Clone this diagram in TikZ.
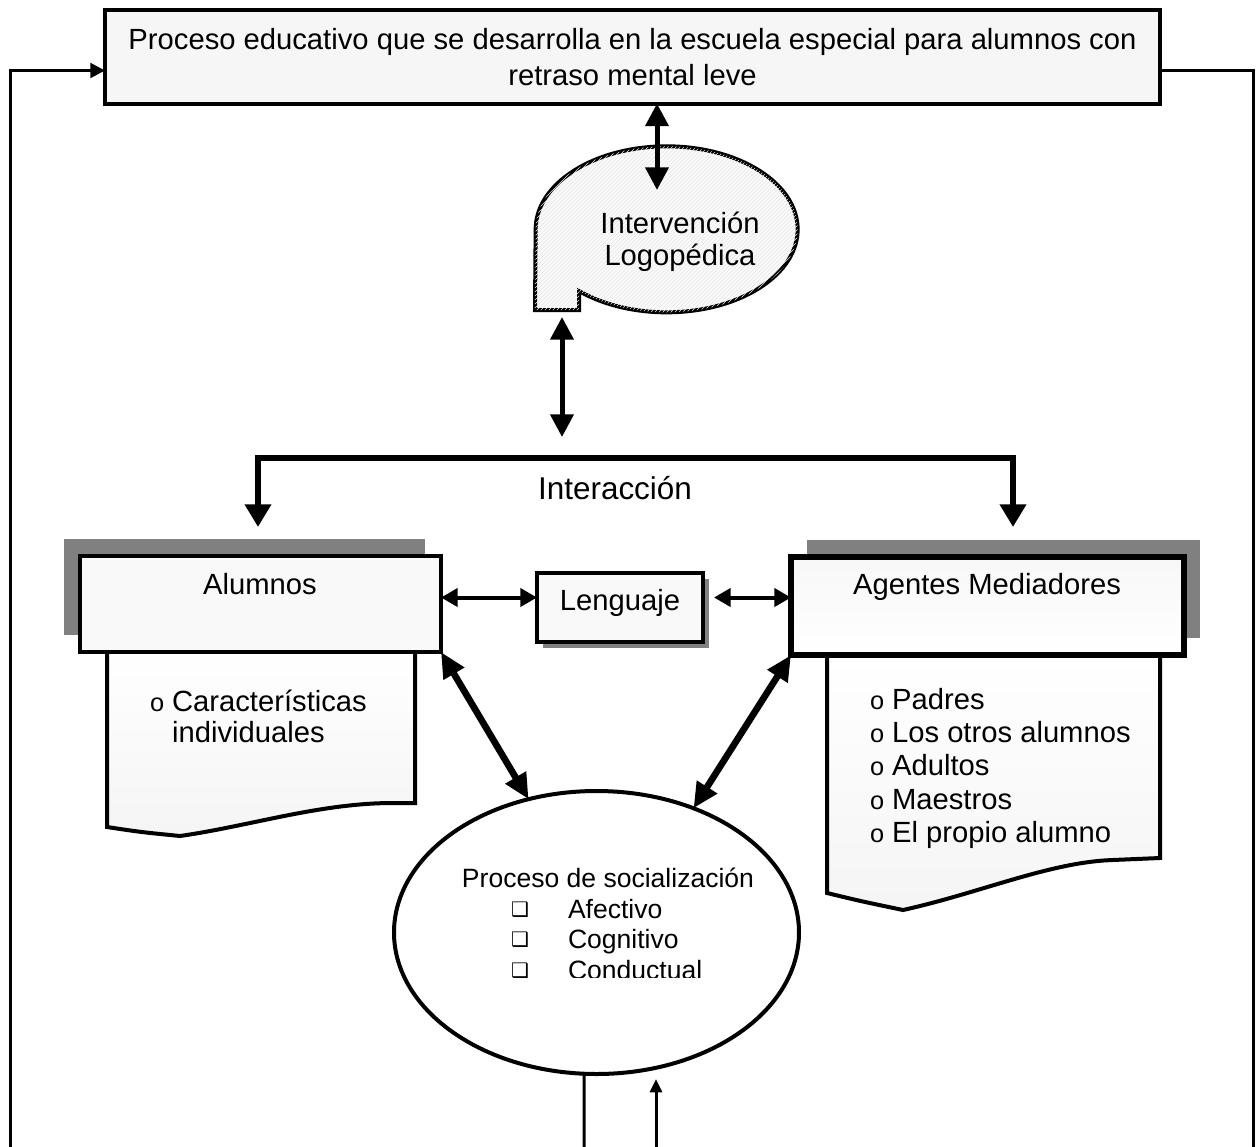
\documentclass[tikz,border=0pt]{standalone}
\usepackage{fontspec}
\setmainfont{Liberation Sans}
\newfontfamily\symfont{DejaVu Sans}
\usetikzlibrary{arrows.meta,shapes.geometric,shadows,patterns}
\newcommand\bul{{\fontsize{19}{19}\selectfont o}}
\newcommand\chk{{\symfont\fontsize{15}{15}\selectfont ❑}}
\begin{document}
\begin{tikzpicture}[x=0.75pt,y=-0.75pt,
  every node/.style={inner sep=0pt, outer sep=0pt},
  txt/.style={font=\fontsize{21.9}{27}\selectfont},
  listL/.style={font=\fontsize{21.9}{23.3}\selectfont},
  listR/.style={font=\fontsize{21.9}{25}\selectfont},
  smalltxt/.style={font=\fontsize{19.9}{22.5}\selectfont},
  box/.style={draw, line width=3pt, fill=gray!5},
  doc/.style={draw, line width=3pt, top color=white, bottom color=gray!8},
  feed/.style={line width=2.25pt, -{Triangle[length=11pt,width=11pt]}},
  thin/.style={line width=2.25pt},
  dblbig/.style={line width=3.75pt, {Triangle[length=17pt,width=17pt]}-{Triangle[length=17pt,width=17pt]}},
  bracket/.style={line width=4.5pt, line join=miter, {Triangle[length=17pt,width=19pt]}-{Triangle[length=17pt,width=19pt]}},
  dblmid/.style={line width=3pt, {Triangle[length=12.5pt,width=13.5pt]}-{Triangle[length=12.5pt,width=13.5pt]}},
  dbldiag/.style={line width=5pt, {Triangle[length=19pt,width=17pt]}-{Triangle[length=19pt,width=17pt]}},
  upin/.style={line width=2.25pt, -{Triangle[length=10pt,width=9pt]}}
]
\useasboundingbox (0,0) rectangle (1258,1147);

% loose ends leaving the page
\coordinate (fbL) at (10,1147);
\coordinate (fbR) at (1253,1147);
\coordinate (outA) at (584,1147);
\coordinate (inB) at (656,1147);

% main process box
\node[box, fill=gray!7, minimum width=791.25pt, minimum height=70.5pt] (top) at (632.5,56.5) {};
\node[txt, align=center] (topT) at (632.5,57) {Proceso educativo que se desarrolla en la escuela especial para alumnos con\\retraso mental leve};

% feedback loops
\path (top.west) ++(0,14) coordinate (inL);
\path (top.east) ++(0,14) coordinate (inR);
\draw[feed] (fbL) |- (inL);
\draw[thin] (inR) -| (fbR);

% callout bubble
\coordinate (bub) at (666,230);
\filldraw[line width=3pt, fill=gray!3, postaction={pattern=north east lines, pattern color=gray!20}]
  (579,291) arc[start angle=132, end angle=-180, x radius=131, y radius=83]
  -- (535,310) -- (579,310) -- cycle;
\node[txt, align=center, font=\fontsize{21.9}{24}\selectfont] (bubT) at (680,242) {Intervención\\Logopédica};

\coordinate (bubIn) at (657,190);
\draw[dblbig] (top.south -| bubIn) -- (bubIn);

% link to the interaction bracket
\coordinate (bubBot) at (562,317);
\coordinate (brTop) at (562,437);
\draw[dblbig] (bubBot) -- (brTop);
\coordinate (alumIn) at (258,527);
\coordinate (agentIn) at (1013,527);
\coordinate (barMid) at (635,458);
\draw[bracket] (alumIn) |- (barMid) -| (agentIn);
\node[font=\fontsize{23.6}{27}\selectfont, anchor=base] (inter) at (615,499) {Interacción};

% document panels
\filldraw[doc] (107,648) -- (107,827) .. controls (140,832) .. (180,836)
  .. controls (250,826) and (320,803) .. (393,803) -- (415,803) -- (415,648) -- cycle;
\filldraw[doc] (827,655) -- (827,893) .. controls (860,901) .. (903,910)
  .. controls (980,893) and (1050,862) .. (1113,860) -- (1160,858) -- (1160,655) -- cycle;

% actor boxes
\node[box, fill=gray!5, minimum width=270.75pt, minimum height=72pt,
  general shadow={fill=gray, shadow xshift=-12pt, shadow yshift=12.75pt}] (alum) at (260.5,604) {};
\node[txt, anchor=base] (alumT) at (260,594) {Alumnos};
\node[box, line width=4.5pt, top color=gray!6, bottom color=white, minimum width=294.75pt, minimum height=73.5pt,
  general shadow={fill=gray, shadow xshift=12pt, shadow yshift=12.75pt}] (agent) at (987.5,606) {};
\node[txt, anchor=base] (agentT) at (987,594) {Agentes Mediadores};
\node[box, fill=gray!5, minimum width=124.5pt, minimum height=51.75pt,
  general shadow={fill=gray, shadow xshift=4.5pt, shadow yshift=-4.5pt}] (leng) at (620,607.5) {};
\node[txt, anchor=base] (lengT) at (620,610) {Lenguaje};

% lists
\node[listL, anchor=base west] (alumL) at (150,711)
  {\begin{tabular}[t]{@{}l@{\hspace{6pt}}l@{}}\bul & Características\\ & individuales\end{tabular}};
\node[listR, anchor=base west] (agentL) at (870,709)
  {\begin{tabular}[t]{@{}l@{\hspace{6pt}}l@{}}\bul & Padres\\ \bul & Los otros alumnos\\ \bul & Adultos\\ \bul & Maestros\\ \bul & El propio alumno\end{tabular}};

% language links
\path (leng.west) ++(0,-10) coordinate (lw);
\path (leng.east) ++(11,-10) coordinate (le);
\draw[dblmid] (alum.east |- lw) -- (lw);
\draw[dblmid] (le) -- (agent.west |- le);

% socialisation ellipse
\node[ellipse, draw, line width=3pt, fill=white, minimum width=303.75pt, minimum height=212.25pt] (soc) at (596.5,932.5) {};
\node[smalltxt, anchor=base] (socT) at (608,887) {Proceso de socialización};
\foreach \i in {1,2,3} {
  \node[anchor=base] (bx\i) at (520,{916+30.5*(\i-1)}) {\chk};
}
\begin{scope}
  \clip (390,780) rectangle (800,977.5);
  \foreach \t [count=\i] in {Afectivo,Cognitivo,Conductual} {
    \node[smalltxt, anchor=base west] (it\i) at (568,{918+30.5*(\i-1)}) {\t};
  }
\end{scope}

\draw[dbldiag] (alum.south east) -- (soc.117);
\draw[dbldiag] (agent.south west) -- (soc.52);

% links leaving at the bottom
\draw[thin] (soc.265) -- (outA);
\path (soc.south -| inB) ++(0,5) coordinate (inTip);
\draw[upin] (inB) -- (inTip);
\end{tikzpicture}
\end{document}
